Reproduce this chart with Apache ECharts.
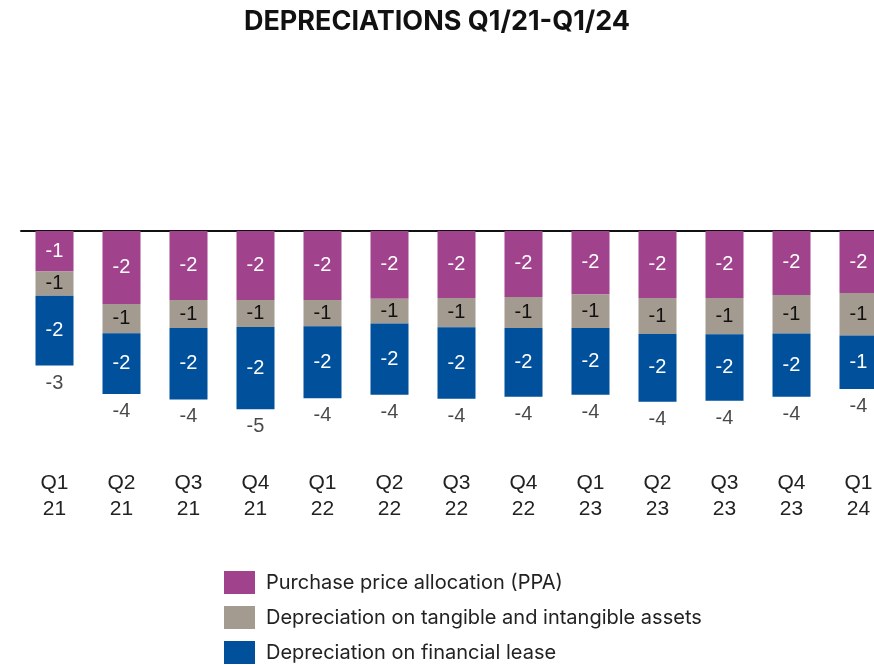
<!DOCTYPE html>
<html>
<head>
<meta charset="utf-8">
<script src="https://cdn.jsdelivr.net/npm/echarts@6/dist/echarts.min.js"></script>
<style>
  html, body { margin: 0; padding: 0; background: #fff; }
  #chart { width: 874px; height: 665px; }
</style>
</head>
<body>
<div id="chart"></div>
<script>
// quarters
var quarters = ["Q1\n21", "Q2\n21", "Q3\n21", "Q4\n21", "Q1\n22", "Q2\n22", "Q3\n22",
  "Q4\n22", "Q1\n23", "Q2\n23", "Q3\n23", "Q4\n23", "Q1\n24"];
// MEUR
var ppa = [-1.04, -1.87, -1.77, -1.77, -1.77, -1.74, -1.72, -1.69, -1.63, -1.72, -1.72, -1.64, -1.59];
var tangible = [-0.62, -0.75, -0.72, -0.69, -0.67, -0.63, -0.75, -0.80, -0.86, -0.92, -0.93, -0.99, -1.09];
var lease = [-1.79, -1.56, -1.83, -2.11, -1.85, -1.83, -1.83, -1.76, -1.71, -1.74, -1.70, -1.62, -1.37];

var totals = quarters.map(function (q, i) {
  return ppa[i] + tangible[i] + lease[i];
});

var chart = echarts.init(document.getElementById("chart"));

function segLabel(color) {
  return {
    show: true,
    position: "inside",
    color: color,
    fontSize: 20,
    fontFamily: "Liberation Sans",
    formatter: function (p) {
      return Math.round(p.value).toString();
    }
  };
}

var option = {
  animation: false,
  title: {
    text: "DEPRECIATIONS Q1/21-Q1/24",
    left: "center",
    top: 3,
    textStyle: {
      fontFamily: "Inter",
      fontWeight: 700,
      fontSize: 27,
      color: "#111"
    }
  },
  legend: {
    orient: "vertical",
    left: 224,
    top: 571,
    height: 100,
    padding: 0,
    itemWidth: 31,
    itemHeight: 23,
    itemGap: 12,
    icon: "rect",
    data: ["Purchase price allocation (PPA)", "Depreciation on tangible and intangible assets", "Depreciation on financial lease"],
    textStyle: {
      fontFamily: "Inter",
      fontSize: 20,
      color: "#222",
      padding: [0, 0, 0, 6]
    }
  },
  grid: {
    left: 21,
    top: 231,
    width: 871,
    height: 234,
    outerBoundsMode: "none"
  },
  xAxis: [
    {
      type: "category",
      data: quarters,
      position: "bottom",
      axisLine: { show: false },
      axisTick: { show: false },
      axisLabel: {
        fontSize: 21,
        fontFamily: "Liberation Sans",
        color: "#222",
        lineHeight: 26,
        margin: 5
      }
    },
    {
      type: "category",
      data: quarters,
      position: "top",
      axisLine: { show: true, lineStyle: { color: "#111", width: 2 } },
      axisTick: { show: false },
      axisLabel: { show: false }
    }
  ],
  yAxis: {
    type: "value",
    min: -6,
    max: 0,
    show: false
  },
  series: [
    {
      name: "Purchase price allocation (PPA)",
      type: "bar",
      stack: "dep",
      barWidth: 38,
      itemStyle: { color: "#A0428C" },
      label: segLabel("#fff"),
      data: ppa
    },
    {
      name: "Depreciation on tangible and intangible assets",
      type: "bar",
      stack: "dep",
      itemStyle: { color: "#A39A90" },
      label: segLabel("#111"),
      data: tangible
    },
    {
      name: "Depreciation on financial lease",
      type: "bar",
      stack: "dep",
      itemStyle: { color: "#00509B" },
      label: segLabel("#fff"),
      data: lease
    },
    {
      name: "total",
      type: "scatter",
      symbolSize: 1,
      itemStyle: { color: "rgba(0,0,0,0)" },
      label: {
        show: true,
        position: "bottom",
        distance: 7,
        color: "#1a1a1a",
        fontSize: 20,
        fontFamily: "Liberation Sans",
        formatter: function (p) {
          return Math.round(p.value).toString();
        }
      },
      data: totals
    }
  ]
};

chart.setOption(option);
</script>
</body>
</html>
